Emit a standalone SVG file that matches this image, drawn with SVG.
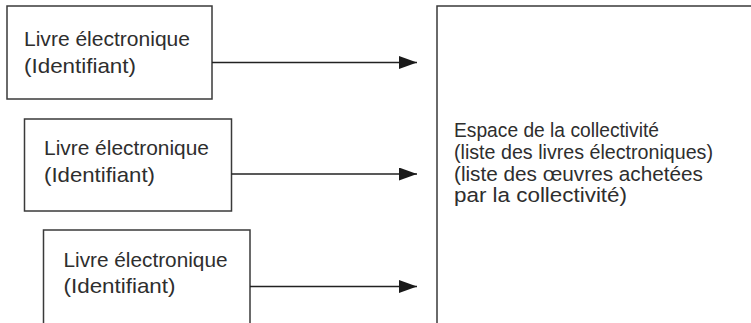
<svg xmlns="http://www.w3.org/2000/svg" width="751" height="323" viewBox="0 0 751 323">
<style>
.box{fill:#fff;stroke:#3a3a3a;stroke-width:1.5}
.t{font-family:"Liberation Sans",Arial,sans-serif;font-size:21px;fill:#2e2e2e}
.b{font-size:20.5px}
.conn{stroke:#222;stroke-width:1.3;fill:none}
</style>
<defs>
<marker id="ah" markerUnits="userSpaceOnUse" markerWidth="19" markerHeight="13" refX="18" refY="6.5" orient="auto">
<path d="M0,0 L18,6.5 L0,13 Z" fill="#1a1a1a"/>
</marker>
</defs>
<rect width="751" height="323" fill="#fff"/>
<g id="espace">
<rect class="box" x="437" y="6" width="330" height="340"/>
<text class="t b" x="454" y="137" textLength="205" lengthAdjust="spacingAndGlyphs">Espace de la collectivité</text>
<text class="t b" x="454" y="159" textLength="259" lengthAdjust="spacingAndGlyphs">(liste des livres électroniques)</text>
<text class="t b" x="454" y="180.5" textLength="249" lengthAdjust="spacingAndGlyphs">(liste des œuvres achetées</text>
<text class="t b" x="454" y="202" textLength="173" lengthAdjust="spacingAndGlyphs">par la collectivité)</text>
</g>
<g id="livre1">
<rect class="box" x="7" y="6" width="205" height="93"/>
<text class="t" x="24" y="45.5" textLength="166" lengthAdjust="spacingAndGlyphs">Livre électronique</text>
<text class="t" x="24" y="72.5" textLength="112" lengthAdjust="spacingAndGlyphs">(Identifiant)</text>
</g>
<g id="livre2">
<rect class="box" x="24.5" y="119" width="207" height="92"/>
<text class="t" x="44" y="155" textLength="165" lengthAdjust="spacingAndGlyphs">Livre électronique</text>
<text class="t" x="44" y="181.5" textLength="111" lengthAdjust="spacingAndGlyphs">(Identifiant)</text>
</g>
<g id="livre3">
<rect class="box" x="43.5" y="230" width="206.5" height="120"/>
<text class="t" x="63.5" y="267" textLength="164" lengthAdjust="spacingAndGlyphs">Livre électronique</text>
<text class="t" x="63.5" y="293" textLength="112" lengthAdjust="spacingAndGlyphs">(Identifiant)</text>
</g>
<g id="connectors">
<line class="conn" x1="212" y1="62.5" x2="417" y2="62.5" marker-end="url(#ah)"/>
<line class="conn" x1="231.5" y1="174" x2="417" y2="174" marker-end="url(#ah)"/>
<line class="conn" x1="250" y1="286.5" x2="417" y2="286.5" marker-end="url(#ah)"/>
</g>
</svg>
